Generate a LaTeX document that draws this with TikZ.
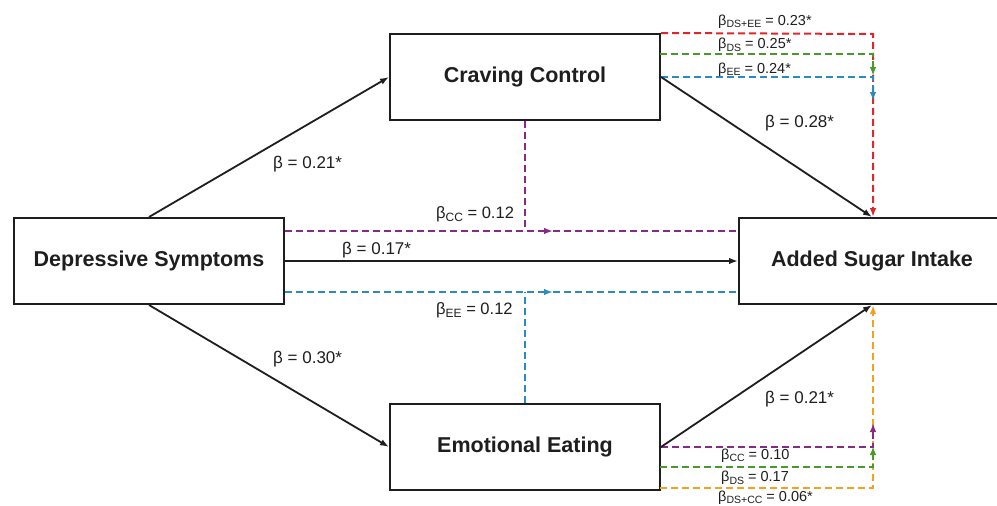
\documentclass[tikz,border=0pt]{standalone}
\usepackage{fontspec}
\setmainfont{Liberation Sans}
\usetikzlibrary{arrows.meta}
\definecolor{cred}{HTML}{E0252B}
\definecolor{cgreen}{HTML}{4A9A2A}
\definecolor{cblue}{HTML}{2A8BBF}
\definecolor{cpurple}{HTML}{862A86}
\definecolor{corange}{HTML}{F5A020}
\definecolor{ink}{HTML}{1E1E1E}
\newcommand{\lsub}[1]{\raisebox{-0.35ex}{\fontsize{12}{12}\selectfont #1}}
\newcommand{\ssub}[1]{\raisebox{-0.35ex}{\fontsize{10.5}{10.5}\selectfont #1}}
\begin{document}
\begin{tikzpicture}[x=1pt,y=-1pt,
  box/.style={draw=ink,line width=2pt,fill=white,minimum width=270pt,minimum height=86pt,inner sep=0pt,font=\fontsize{21.5}{24}\selectfont\bfseries,text=ink},
  tip/.style={-{Latex[length=9pt,width=6.5pt]}},
  conn/.style={line width=1.8pt,draw=ink,tip},
  dsh/.style={line width=2pt,dash pattern=on 7pt off 4pt},
  lbl/.style={anchor=base west,inner sep=0pt,font=\fontsize{17}{20}\selectfont,text=ink},
  slbl/.style={anchor=base west,inner sep=0pt,font=\fontsize{14.5}{17}\selectfont,text=ink}]
\useasboundingbox (0,0) rectangle (997,506);
\fill[white] (0,0) rectangle (997,506);

% boxes
\node[box] (DS) at (149,261) {Depressive Symptoms};
\node[box] (CC) at (525,77) {Craving Control};
\node[box] (EE) at (525,447) {Emotional Eating};
\node[box,minimum width=266pt] (ASI) at (872,261) {Added Sugar Intake};

% helper coordinates
\coordinate (pY) at (0,231);
\coordinate (bY) at (0,292);
\coordinate (pM) at (553,231);
\coordinate (bM) at (553,292);
\coordinate (gTs) at (660,54);
\coordinate (gTe) at (873,76);
\coordinate (rT) at (873,34);
\coordinate (bTe) at (873,101);
\coordinate (pBe) at (873,423);
\coordinate (gBs) at (660,467);
\coordinate (gBe) at (873,446);
\coordinate (oBs) at (660,488);
\coordinate (oBc) at (873,488);

% central dashed paths
\draw[dsh,cpurple] (CC.south) -- (CC.south |- pY);
\draw[dsh,cpurple,tip] (DS.east |- pY) -- (pM);
\draw[dsh,cpurple] (pM) -- (ASI.west |- pY);
\draw[dsh,cblue] (EE.north) -- (EE.north |- bY);
\draw[dsh,cblue,tip] (DS.east |- bY) -- (bM);
\draw[dsh,cblue] (bM) -- (ASI.west |- bY);

% right top dashed paths
\draw[dsh,cred,tip] (CC.north east) -- (rT) -- (rT |- ASI.north);
\draw[dsh,cgreen,tip] (gTs) -| (gTe);
\draw[dsh,cblue,tip] (CC.east) -| (bTe);

% right bottom dashed paths
\draw[dsh,corange,tip] (oBs) -- (oBc) -- (oBc |- ASI.south);
\draw[dsh,cgreen,tip] (gBs) -| (gBe);
\draw[dsh,cpurple,tip] (EE.east) -| (pBe);

% solid paths
\draw[conn] (DS.north) -- (CC.west);
\draw[conn] (DS.south) -- (EE.west);
\draw[conn] (CC.east) -- (ASI.north);
\draw[conn] (EE.east) -- (ASI.south);
\draw[conn] (DS.east) -- (ASI.west);

% labels
\node[lbl] (l1) at (273,168) {β = 0.21*};
\node[lbl] (l2) at (273,363) {β = 0.30*};
\node[lbl] (l3) at (765,127) {β = 0.28*};
\node[lbl] (l4) at (765,403) {β = 0.21*};
\node[lbl] (l5) at (342,254) {β = 0.17*};
\node[lbl,font=\fontsize{16.5}{20}\selectfont] (l6) at (436,218) {β\lsub{CC} = 0.12};
\node[lbl,font=\fontsize{16.5}{20}\selectfont] (l7) at (436,314) {β\lsub{EE} = 0.12};
\node[slbl] (l8) at (718,25) {β\ssub{DS+EE} = 0.23*};
\node[slbl] (l9) at (718,48.5) {β\ssub{DS} = 0.25*};
\node[slbl] (l10) at (718,73) {β\ssub{EE} = 0.24*};
\node[slbl] (l11) at (721,459) {β\ssub{CC} = 0.10};
\node[slbl] (l12) at (721,481.5) {β\ssub{DS} = 0.17};
\node[slbl] (l13) at (718,501) {β\ssub{DS+CC} = 0.06*};
\end{tikzpicture}
\end{document}
